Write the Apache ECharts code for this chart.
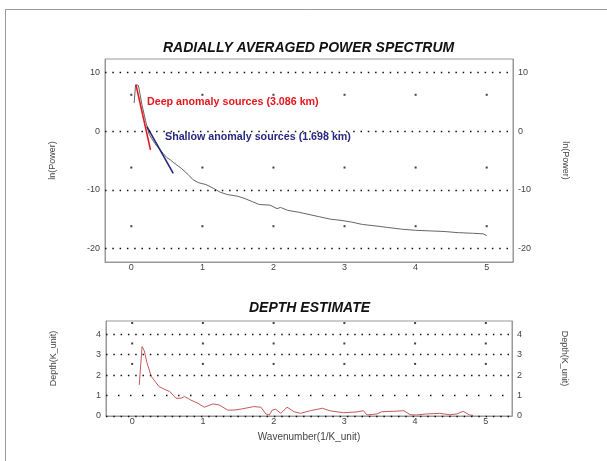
<!DOCTYPE html>
<html><head><meta charset="utf-8">
<script src="https://cdn.jsdelivr.net/npm/echarts@6/dist/echarts.min.js"></script>
<style>html,body{margin:0;padding:0;background:#fff}#c{width:607px;height:461px}</style>
</head><body><div id="c"></div>
<script>
// ---- data ----
const specX = [0.04,0.06,0.1,0.15,0.2,0.25,0.3,0.35,0.4,0.45,0.5,0.55,0.6,0.7,0.8,0.87,0.95,1.05,1.15,1.25,1.35,1.5,1.6,1.7,1.8,1.95,2.05,2.1,2.2,2.35,2.5,2.65,2.8,2.95,3.1,3.25,3.4,3.6,3.8,4.0,4.2,4.4,4.6,4.8,4.95,5.0];
const specY = [4.8,7.9,7.8,4.5,1.8,-0.5,-1.5,-2.4,-3.1,-3.8,-4.5,-4.9,-5.4,-6.3,-7.4,-8.3,-8.8,-9.1,-9.7,-10.4,-10.8,-11.1,-11.5,-12.0,-12.5,-12.6,-13.2,-13.0,-13.5,-13.8,-14.2,-14.6,-15.0,-15.2,-15.5,-15.9,-16.1,-16.4,-16.7,-16.9,-17.0,-17.1,-17.3,-17.4,-17.5,-17.8];
const deepX = [0.066,0.27];
const deepY = [7.9,-3.2];
const shallowX = [0.22,0.59];
const shallowY = [0.77,-7.2];
const depthX = [0.1,0.14,0.17,0.21,0.27,0.38,0.48,0.53,0.62,0.69,0.74,0.83,0.93,1.02,1.14,1.23,1.35,1.44,1.54,1.72,1.82,1.89,1.94,1.98,2.03,2.1,2.19,2.29,2.38,2.52,2.69,2.8,2.99,3.18,3.27,3.32,3.46,3.53,3.69,3.84,3.93,4.02,4.16,4.35,4.49,4.59,4.68,4.77,4.82];
const depthY = [1.52,3.4,3.2,2.6,1.93,1.44,1.27,1.2,0.87,0.87,0.95,0.78,0.62,0.43,0.59,0.54,0.29,0.29,0.34,0.46,0.43,0.1,0.05,0.29,0.33,0.13,0.43,0.21,0.13,0.26,0.38,0.25,0.16,0.2,0.26,0.05,0.1,0.21,0.23,0.26,0.06,0.05,0.1,0.13,0.06,0.1,0.23,0.05,0.03];
const xTicks = [0,1,2,3,4,5];
const yTicksTop = [10,0,-10,-20];
const yTicksBot = [4,3,2,0];
const yTicksBotSparse = [1];
const yLabelsBot = [4,3,2,1,0];
const dotRowsTop = [6.2,-6.2,-16.2];
const dotRowsBot = [4.55,3.55,2.55];
const deepLabel = 'Deep anomaly sources (3.086 km)';
const shallowLabel = 'Shallow anomaly sources (1.698 km)';

const zip = (a,b) => a.map((v,i)=>[v,b[i]]);
const dots = rows => { const r=[]; xTicks.forEach(x=>rows.forEach(y=>r.push([x,y]))); return r; };
const FONT = 'Liberation Sans, Arial, sans-serif';
const lab = {fontFamily:FONT,fontSize:9,color:'#444'};
const dotted = {type:[1.5,5.8],color:'#111',width:1.4};

function yAx(grid, pos, min, max, ticks, name, rot, gap, pad){
  return {type:'value', gridIndex:grid, position:pos, min:min, max:max,
    axisLine:{show:true,onZero:false,lineStyle:{color:'#999'}}, axisTick:{show:false}, splitLine:{show:false},
    axisLabel:Object.assign({customValues:ticks, margin:5}, lab),
    name:name, nameLocation:'middle', nameRotate:rot, nameGap:gap,
    nameTextStyle:{fontFamily:FONT,fontSize:9,color:'#444',padding:pad||0}};
}
function xAx(grid, name){
  return {type:'value', gridIndex:grid, min:-0.37, max:5.37,
    axisLine:{show:true,onZero:false,lineStyle:{color:'#999'}}, axisTick:{show:false}, splitLine:{show:false},
    axisLabel:Object.assign({customValues:xTicks, margin:1}, lab),
    name:name, nameLocation:'middle', nameGap:16,
    nameTextStyle:{fontFamily:FONT,fontSize:10,color:'#444'}};
}

const chart = echarts.init(document.getElementById('c'), null, {renderer:'canvas'});
chart.setOption({
  animation:false,
  backgroundColor:'#fff',
  title:[
    {text:'RADIALLY AVERAGED POWER SPECTRUM', left:163, top:41, padding:0,
     textStyle:{fontFamily:FONT,fontSize:14,fontWeight:'bold',fontStyle:'italic',color:'#111'}},
    {text:'DEPTH ESTIMATE', left:249, top:301, padding:0,
     textStyle:{fontFamily:FONT,fontSize:14,fontWeight:'bold',fontStyle:'italic',color:'#111'}}
  ],
  grid:[
    {left:105, top:59, width:408, height:203, show:true, borderColor:'#999', borderWidth:1, backgroundColor:'transparent'},
    {left:106, top:321, width:406, height:95, show:true, borderColor:'#999', borderWidth:1, backgroundColor:'transparent'}
  ],
  xAxis:[ xAx(0,''), xAx(1,'Wavenumber(1/K_unit)') ],
  yAxis:[
    yAx(0,'left',-22.3,12.3,yTicksTop,'ln(Power)',90,48),
    yAx(0,'right',-22.3,12.3,yTicksTop,'ln(Power)',-90,48),
    yAx(1,'left',0,4.65,yLabelsBot,'Depth(K_unit)',90,48,[0,0,0,20]),
    yAx(1,'right',0,4.65,yLabelsBot,'Depth(K_unit)',-90,48,[0,20,0,0])
  ],
  graphic:[
    {type:'rect', shape:{x:5.5,y:9.5,width:700,height:600}, style:{fill:'none',stroke:'#9a9a9a',lineWidth:1}, silent:true},
    {type:'text', x:147, y:102, style:{text:deepLabel, fill:'#e3161e', font:'bold 10.7px '+FONT, textVerticalAlign:'middle'}},
    {type:'text', x:165, y:137, style:{text:shallowLabel, fill:'#26287f', font:'bold 10.7px '+FONT, textVerticalAlign:'middle'}}
  ],
  series:[
    {type:'scatter', xAxisIndex:0, yAxisIndex:0, data:dots(dotRowsTop), symbol:'rect', symbolSize:2,
     itemStyle:{color:'#111'}, silent:true, z:1,
     markLine:{silent:true, symbol:['none','none'], label:{show:false}, lineStyle:dotted,
       data:yTicksTop.map(v=>({yAxis:v}))}},
    {type:'scatter', xAxisIndex:1, yAxisIndex:2, data:dots(dotRowsBot), symbol:'rect', symbolSize:2,
     itemStyle:{color:'#111'}, silent:true, z:1,
     markLine:{silent:true, symbol:['none','none'], label:{show:false}, lineStyle:dotted,
       data:yTicksBot.map(v=>({yAxis:v}))}},
    {type:'scatter', xAxisIndex:1, yAxisIndex:2, data:[], silent:true, z:1,
     markLine:{silent:true, symbol:['none','none'], label:{show:false},
       lineStyle:{type:[1.5,10.5],color:'#111',width:1.4},
       data:yTicksBotSparse.map(v=>({yAxis:v}))}},
    {type:'line', xAxisIndex:0, yAxisIndex:0, data:zip(specX,specY), showSymbol:false,
     lineStyle:{color:'#666',width:1}, z:3},
    {type:'line', xAxisIndex:0, yAxisIndex:0, data:zip(deepX,deepY), showSymbol:false,
     lineStyle:{color:'#e3161e',width:1.6}, z:4},
    {type:'line', xAxisIndex:0, yAxisIndex:0, data:zip(shallowX,shallowY), showSymbol:false,
     lineStyle:{color:'#26287f',width:1.6}, z:4},
    {type:'line', xAxisIndex:1, yAxisIndex:2, data:zip(depthX,depthY), showSymbol:false,
     lineStyle:{color:'#c4595b',width:1}, z:3}
  ]
});
</script></body></html>
